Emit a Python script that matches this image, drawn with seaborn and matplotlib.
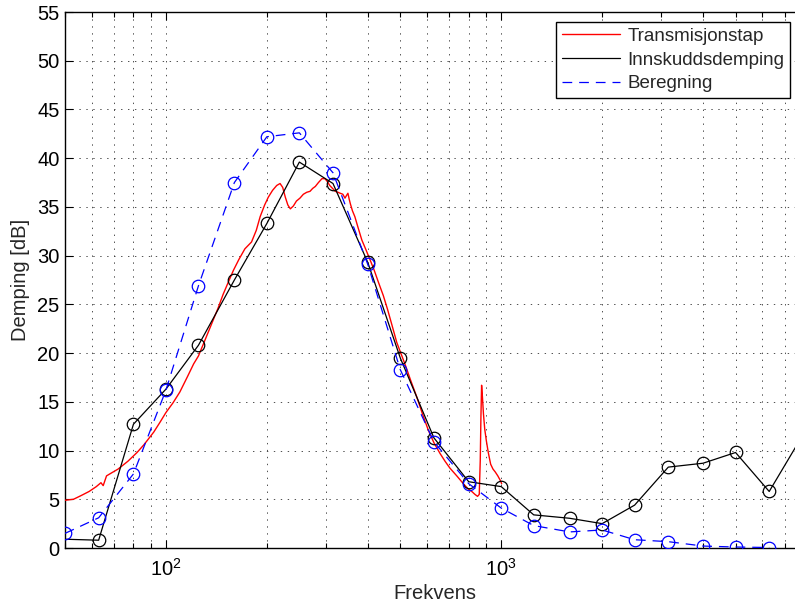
import matplotlib
matplotlib.use("Agg")
import matplotlib.pyplot as plt
import seaborn as sns
import pandas as pd
from matplotlib.lines import Line2D
from matplotlib.ticker import FixedLocator, NullFormatter, LogLocator

# ---------------- data ----------------
red_f = [50, 53, 56, 59, 62, 64, 65, 66.5, 68, 72, 77, 82, 86, 92, 96, 100, 105, 110,
         116, 121, 125, 131, 138, 143, 148, 154, 159, 165, 172, 180, 186, 191, 197, 202,
         208, 214, 219, 223, 227, 231, 235, 240, 245, 251, 257, 263, 269, 274, 279, 285,
         292, 298, 303, 308, 314, 320, 326, 331, 337, 342, 346, 349, 352, 355, 360, 366,
         374, 384, 395, 406, 418, 430, 445, 458, 472, 488, 503, 516, 537, 560, 583, 606,
         630, 657, 680, 703, 737, 771, 795, 817, 835, 850, 860, 866, 870, 874, 879, 885,
         893, 903, 915, 930, 945, 960, 977, 995, 1003]
red_db = [4.9, 5.0, 5.4, 5.8, 6.3, 6.7, 6.4, 7.4, 7.6, 8.1, 8.9, 9.8, 10.6, 11.9, 12.9,
          13.9, 14.9, 16.0, 17.6, 18.9, 19.7, 21.4, 23.3, 24.6, 26.0, 27.4, 28.5, 29.6,
          30.7, 31.4, 32.6, 34.0, 35.2, 36.0, 36.7, 37.2, 37.4, 37.0, 36.0, 35.2, 34.8,
          35.1, 35.6, 35.9, 36.3, 36.5, 36.6, 36.9, 37.1, 37.5, 37.9, 37.9, 37.6, 37.2,
          36.9, 36.6, 36.5, 36.4, 36.3, 35.9, 36.2, 36.4, 35.8, 35.3, 34.6, 34.0, 32.9,
          31.6, 30.6, 29.6, 28.5, 27.3, 25.9, 24.5, 22.9, 21.1, 19.9, 18.9, 17.2, 15.5,
          13.7, 12.1, 10.8, 9.7, 8.9, 8.2, 7.4, 6.6, 6.1, 5.8, 5.5, 5.3, 5.5, 9.0, 13.5,
          16.7, 15.5, 13.8, 12.2, 11.0, 9.8, 8.6, 8.1, 7.8, 7.4, 6.9, 6.6]

black_f = [50, 63, 80, 100, 125, 160, 200, 250, 315, 400, 500, 630, 800, 1000, 1250,
           1600, 2000, 2500, 3150, 4000, 5000, 6300, 8000]
black_db = [0.9, 0.8, 12.7, 16.3, 20.8, 27.5, 33.3, 39.6, 37.4, 29.3, 19.5, 11.3, 6.8,
            6.3, 3.4, 3.05, 2.5, 4.4, 8.3, 8.7, 9.8, 5.8, 11.8]

blue_f = [50, 63, 80, 100, 125, 160, 200, 250, 315, 400, 500, 630, 800, 1000, 1250,
          1600, 2000, 2500, 3150, 4000, 5000, 6300]
blue_db = [1.5, 3.1, 7.6, 16.2, 26.9, 37.5, 42.2, 42.6, 38.5, 29.1, 18.3, 10.9, 6.6,
           4.1, 2.3, 1.65, 1.85, 0.85, 0.65, 0.2, 0.1, 0.05]

labels = ["Transmisjonstap", "Innskuddsdemping", "Beregning"]
y_ticks = list(range(0, 56, 5))

red_df = pd.DataFrame({"f": red_f, "db": red_db})
black_df = pd.DataFrame({"f": black_f, "db": black_db})
blue_df = pd.DataFrame({"f": blue_f, "db": blue_db})

# ---------------- style ----------------
sns.set_style("ticks")
plt.rcParams["font.family"] = ["Liberation Sans", "DejaVu Sans"]
plt.rcParams["lines.scale_dashes"] = False
FS = 14.5
LFS = 13.5

fig = plt.figure(figsize=(7.95, 6.06), dpi=100)
ax = fig.add_axes([65 / 795, 58 / 606, 739 / 795, 536 / 606])
ax.set_xscale("log")

dash = (0, (7, 5))

sns.lineplot(data=red_df, x="f", y="db", ax=ax, color="red", lw=1.0, zorder=3)
sns.lineplot(data=black_df, x="f", y="db", ax=ax, color="black", lw=0.9,
             marker="o", markersize=9, markerfacecolor="none",
             markeredgecolor="black", markeredgewidth=0.9,
             markevery=list(range(1, len(black_f))), zorder=4)
sns.lineplot(data=blue_df, x="f", y="db", ax=ax, color="blue", lw=0.9,
             linestyle=dash, marker="o", markersize=9, markerfacecolor="none",
             markeredgecolor="blue", markeredgewidth=0.9, zorder=5)

ax.set_xlim(50, 8000)
ax.set_ylim(0, 55)
ax.set_yticks(y_ticks)
ax.xaxis.set_major_locator(FixedLocator([100, 1000]))
ax.xaxis.set_minor_locator(LogLocator(base=10, subs=range(2, 10), numticks=20))
ax.xaxis.set_minor_formatter(NullFormatter())

grid_ls = (0, (1, 4))
ax.grid(True, which="major", axis="both", color="0.2", lw=0.6, linestyle=grid_ls)
ax.grid(True, which="minor", axis="x", color="0.2", lw=0.6, linestyle=grid_ls)
ax.set_axisbelow(True)

ax.tick_params(which="both", direction="in", top=True, right=True,
               labelsize=FS, colors="black", width=0.8)
ax.tick_params(which="major", length=6, pad=4)
ax.tick_params(which="minor", length=3.5)
ax.tick_params(axis="x", which="major", pad=7)

for s in ax.spines.values():
    s.set_linewidth(1.0)
    s.set_color("black")

ax.set_xlabel("Frekvens", fontsize=FS, labelpad=3)
ax.set_ylabel("Demping [dB]", fontsize=FS, labelpad=5)

handles = [Line2D([], [], color="red", lw=1.0),
           Line2D([], [], color="black", lw=0.9),
           Line2D([], [], color="blue", lw=0.9, linestyle=dash)]
leg = ax.legend(handles, labels, loc="upper right",
                bbox_to_anchor=((790 - 65) / 739, (548 - 22) / 536),
                borderaxespad=0, fontsize=LFS, frameon=True, fancybox=False,
                framealpha=1, edgecolor="black", handlelength=3.1,
                handletextpad=0.4, labelspacing=0.36, borderpad=0.3)
leg.get_frame().set_linewidth(1.0)

fig.savefig("out.png", dpi=100)
